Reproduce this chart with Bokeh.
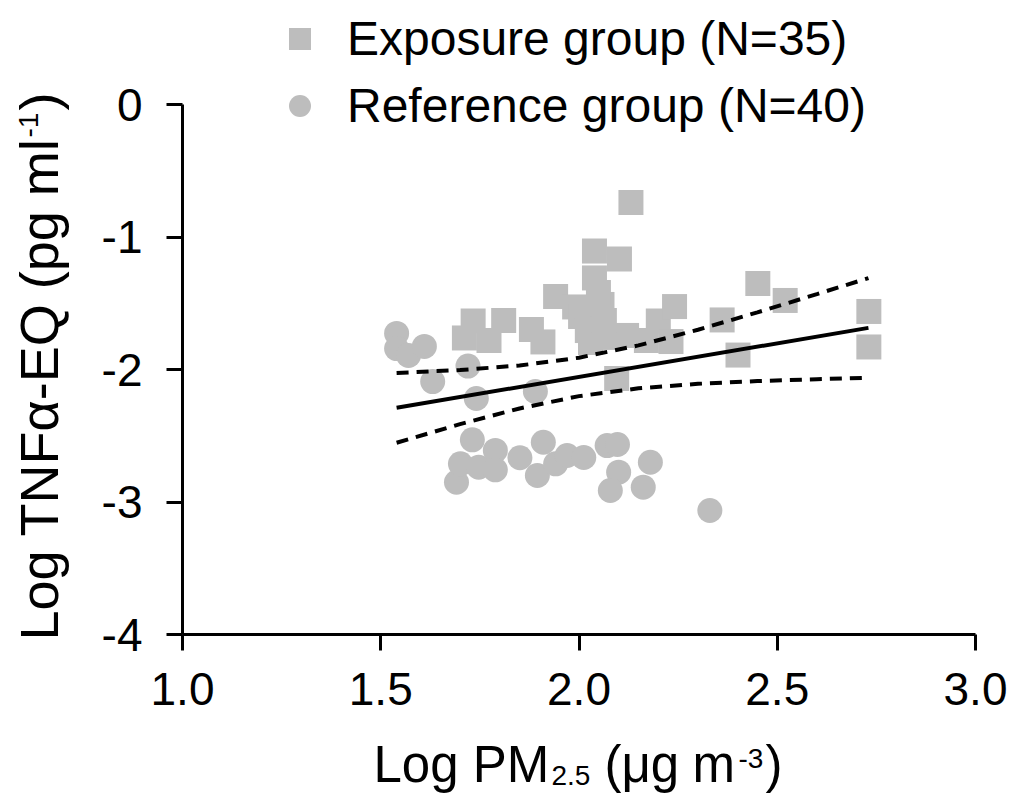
from math import pi
from bokeh.plotting import figure
from bokeh.models import Range1d, FixedTicker, Label, Legend, LegendItem
from bokeh.embed import file_html
from bokeh.resources import INLINE

# ---- data ----
exp_x = [1.711, 1.733, 1.773, 1.810, 1.880, 1.909, 1.941, 1.989, 2.004, 2.021,
         2.029, 2.039, 2.102, 2.039, 2.058, 2.049, 2.087, 2.120, 2.131, 2.095,
         2.200, 2.232, 2.241, 2.361, 2.401, 2.451, 2.520, 2.731, 2.731, 2.064,
         2.170]
exp_y = [-1.762, -1.634, -1.781, -1.630, -1.698, -1.792, -1.449, -1.528, -1.600, -1.706,
         -1.796, -1.106, -1.166, -1.309, -1.509, -1.419, -1.758, -1.743, -0.740, -2.068,
         -1.634, -1.789, -1.525, -1.626, -1.891, -1.351, -1.479, -1.562, -1.830, -1.630,
         -1.781]

ref_x = [1.540, 1.540, 1.570, 1.610, 1.631, 1.720, 1.741, 1.890, 1.731, 1.691,
         1.701, 1.747, 1.789, 1.789, 1.851, 1.895, 1.910, 1.941, 1.970, 2.012,
         2.071, 2.097, 2.100, 2.079, 2.180, 2.162, 2.330]
ref_y = [-1.728, -1.842, -1.894, -1.826, -2.091, -1.974, -2.219, -2.166, -2.531, -2.851,
         -2.712, -2.737, -2.611, -2.757, -2.666, -2.800, -2.549, -2.712, -2.649, -2.664,
         -2.574, -2.566, -2.775, -2.913, -2.700, -2.888, -3.064]

fit_x = [1.54, 2.73]
fit_y = [-2.289, -1.686]

ci_x = [1.54, 1.70, 1.85, 2.00, 2.15, 2.30, 2.45, 2.60, 2.73]
ci_upper = [-2.026, -2.004, -1.970, -1.911, -1.818, -1.700, -1.569, -1.431, -1.310]
ci_lower = [-2.553, -2.412, -2.294, -2.201, -2.142, -2.108, -2.087, -2.073, -2.062]

x_ticks = [1.0, 1.5, 2.0, 2.5, 3.0]
x_tick_labels = ["1.0", "1.5", "2.0", "2.5", "3.0"]
y_ticks = [0, -1, -2, -3, -4]
y_tick_labels = ["0", "-1", "-2", "-3", "-4"]

legend_labels = ["Exposure group (N=35)", "Reference group (N=40)"]

FONT = "Liberation Sans"
GRAY = "#bdbdbd"

# the frame covers the whole canvas; axes are pinned with fixed_location so
# that the titles and the legend can sit outside the axes without clipping
W, H = 1020, 793
X0_PX, X_PER = 182.0, 396.5      # pixel of x=1.0, pixels per unit
Y0_PX, Y_PER = 104.0, 132.5      # pixel of y=0,   pixels per unit
x_start = 1.0 - X0_PX / X_PER
x_end = 1.0 + (W - X0_PX) / X_PER
y_end = Y0_PX / Y_PER
y_start = -(H - Y0_PX) / Y_PER

p = figure(width=W, height=H, min_border=0,
           x_range=Range1d(x_start, x_end), y_range=Range1d(y_start, y_end),
           output_backend="svg", toolbar_location=None,
           background_fill_color="white", border_fill_color="white")
p.outline_line_color = None
p.xgrid.visible = False
p.ygrid.visible = False

sq = p.scatter(exp_x, exp_y, marker="square", size=25, fill_color=GRAY, line_color=None)
ci = p.scatter(ref_x, ref_y, marker="circle", size=25, fill_color=GRAY, line_color=None)

p.line(fit_x, fit_y, line_color="black", line_width=4)
p.line(ci_x, ci_upper, line_color="black", line_width=4, line_dash="12 8")
p.line(ci_x, ci_lower, line_color="black", line_width=4, line_dash="12 8")

for ax in (p.xaxis[0], p.yaxis[0]):
    ax.axis_line_width = 3
    ax.axis_line_color = "black"
    ax.major_tick_line_width = 3
    ax.major_tick_line_color = "black"
    ax.major_tick_in = 0
    ax.major_tick_out = 16
    ax.minor_tick_line_color = None
    ax.major_label_text_font = FONT
    ax.major_label_text_font_size = "46px"
    ax.major_label_text_color = "black"

p.xaxis[0].ticker = FixedTicker(ticks=x_ticks)
p.xaxis[0].major_label_overrides = {t: l for t, l in zip(x_ticks, x_tick_labels)}
p.xaxis[0].major_label_standoff = 22
p.xaxis[0].fixed_location = y_ticks[-1]
p.xaxis[0].bounds = (x_ticks[0], x_ticks[-1])

p.yaxis[0].ticker = FixedTicker(ticks=y_ticks)
p.yaxis[0].major_label_overrides = {t: l for t, l in zip(y_ticks, y_tick_labels)}
p.yaxis[0].major_label_standoff = 24
p.yaxis[0].fixed_location = x_ticks[0]
p.yaxis[0].bounds = (y_ticks[-1], y_ticks[0])

# ---- axis titles built from pieces (sub/superscripts) ----
def piece(text, xo, yo, fs, angle=0.0):
    p.add_layout(Label(x=x_ticks[0], y=y_ticks[-1], x_offset=xo, y_offset=yo, text=text,
                       text_font=FONT, text_font_size=fs, text_color="black",
                       text_align="left", text_baseline="alphabetic", angle=angle))

XL, XS = "51px", "28px"
piece("Log PM", 191, -130, XL)
piece("2.5", 369, -141, XS)
piece("(\u03bcg", 422, -130, XL)
piece("m", 510, -130, XL)
piece("-3", 556, -124, XS)
piece(")", 583, -130, XL)

YL, YS = "54px", "28px"
piece("Log TNF\u03b1-EQ (pg ml", -144, -6, YL, pi / 2)
piece("-1", -154, 497, YS, pi / 2)
piece(")", -144, 524, YL, pi / 2)

legend = Legend(items=[LegendItem(label=legend_labels[0], renderers=[sq]),
                       LegendItem(label=legend_labels[1], renderers=[ci])],
                location=(272, 660), orientation="vertical",
                glyph_width=55, glyph_height=55, label_height=55,
                label_standoff=20, spacing=12,
                padding=0, margin=0, border_line_color=None,
                background_fill_alpha=0,
                label_text_font=FONT, label_text_font_size="48px",
                label_text_color="black")
p.add_layout(legend, "center")

open("out.html", "w").write(file_html(p, INLINE))
